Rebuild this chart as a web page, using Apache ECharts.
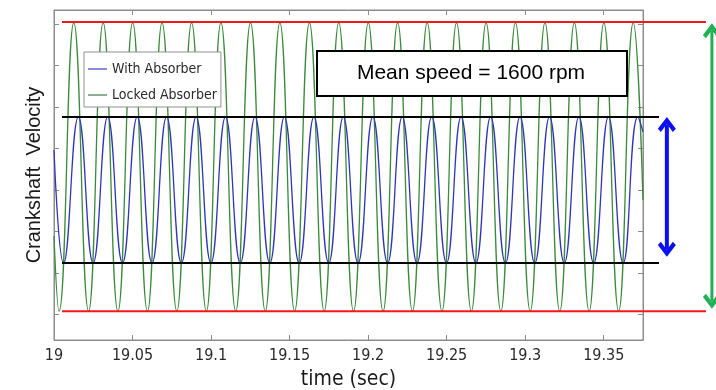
<!DOCTYPE html>
<html>
<head>
<meta charset="utf-8">
<script src="https://cdn.jsdelivr.net/npm/echarts@6.0.0/dist/echarts.min.js"></script>
<style>
  html, body { margin: 0; padding: 0; background: #fff; }
  #chart { width: 716px; height: 390px; }
</style>
</head>
<body>
<div id="chart"></div>
<script>
// ---- data ----
const xTickValues = [19, 19.05, 19.1, 19.15, 19.2, 19.25, 19.3, 19.35];
const yTickValues = [1570, 1580, 1590, 1600, 1610, 1620, 1630, 1640];
const xRange = [19, 19.375];
const yRange = [1563.86, 1643.37];
const annotXMax = 19.4217;

// Locked absorber (green): start, alternating trough/peak, end
const lockedT = [19.0000,
  19.0032, 19.0126, 19.0220, 19.0313, 19.0407, 19.0501, 19.0595, 19.0688, 19.0782, 19.0876,
  19.0970, 19.1063, 19.1157, 19.1251, 19.1345, 19.1438, 19.1532, 19.1626, 19.1720, 19.1813,
  19.1907, 19.2001, 19.2095, 19.2188, 19.2282, 19.2376, 19.2470, 19.2563, 19.2657, 19.2751,
  19.2845, 19.2938, 19.3032, 19.3126, 19.3220, 19.3313, 19.3407, 19.3501, 19.3595, 19.3688,
  19.3750];
const lockedV = [1588.9,
  1570.8, 1640.3, 1570.8, 1640.3, 1570.8, 1640.3, 1570.8, 1640.3, 1570.8, 1640.3,
  1570.8, 1640.3, 1570.8, 1640.3, 1570.8, 1640.3, 1570.8, 1640.3, 1570.8, 1640.3,
  1570.8, 1640.3, 1570.8, 1640.3, 1570.8, 1640.3, 1570.8, 1640.3, 1570.8, 1640.3,
  1570.8, 1640.3, 1570.8, 1640.3, 1570.8, 1640.3, 1570.8, 1640.3, 1570.8, 1640.3,
  1597.6];

// With absorber (blue): start, alternating trough/peak, end
const withT = [19.0000,
  19.0061, 19.0155, 19.0249, 19.0342, 19.0436, 19.0530, 19.0624, 19.0717, 19.0811, 19.0905,
  19.0999, 19.1092, 19.1186, 19.1280, 19.1374, 19.1467, 19.1561, 19.1655, 19.1749, 19.1842,
  19.1936, 19.2030, 19.2124, 19.2217, 19.2311, 19.2405, 19.2499, 19.2592, 19.2686, 19.2780,
  19.2874, 19.2967, 19.3061, 19.3155, 19.3249, 19.3342, 19.3436, 19.3530, 19.3624, 19.3717,
  19.3750];
const withV = [1609.6,
  1582.4, 1617.6, 1582.4, 1617.6, 1582.4, 1617.6, 1582.4, 1617.6, 1582.4, 1617.6,
  1582.4, 1617.6, 1582.4, 1617.6, 1582.4, 1617.6, 1582.4, 1617.6, 1582.4, 1617.6,
  1582.4, 1617.6, 1582.4, 1617.6, 1582.4, 1617.6, 1582.4, 1617.6, 1582.4, 1617.6,
  1582.4, 1617.6, 1582.4, 1617.6, 1582.4, 1617.6, 1582.4, 1617.6, 1582.4, 1617.6,
  1614.0];

// reference levels and arrows (annotations)
const redLevels = [1640.5, 1570.8];
const blackLevels = [1617.6, 1582.4];
const levelStart = 19.0051;
const redEnd = 19.4153;
const blackEnd = 19.3854;
const blueArrowT = 19.3904;
const blueArrowV = [1585.7, 1615.8];
const greenArrowT = 19.4191;
const greenArrowV = [1573.2, 1638.4];

const seriesNames = ['With Absorber', 'Locked Absorber'];
const meanText = 'Mean speed = 1600 rpm';

// ---- chart ----
const narrow = '"Liberation Sans Narrow", "DejaVu Sans Condensed", "Arial Narrow", sans-serif';
const frame = '#8c8c8c';
const chevron = 'path://M9,0L18,11L15,14L9,6.6L3,14L0,11Z';

const pairs = (ts, vs) => ts.map((t, i) => [t, vs[i]]);

function levelSeries(v, end, color) {
  return {
    type: 'line', xAxisIndex: 2, yAxisIndex: 2, silent: true, symbol: 'none',
    clip: false, animation: false,
    data: [[levelStart, v], [end, v]],
    lineStyle: { color: color, width: 2 }, z: 5
  };
}
function arrowSeries(t, vals, color, width, size) {
  return {
    type: 'line', xAxisIndex: 2, yAxisIndex: 2, silent: true, clip: false,
    data: [[t, vals[0]], [t, vals[1]]],
    symbol: chevron, symbolSize: size, showSymbol: true, symbolKeepAspect: false,
    symbolRotate: (v, p) => (p.dataIndex === 0 ? 180 : 0),
    itemStyle: { color: color }, lineStyle: { color: color, width: width }, z: 5
  };
}

const chart = echarts.init(document.getElementById('chart'), null, { renderer: 'canvas' });
chart.setOption({
  animation: false,
  backgroundColor: '#fff',
  grid: [
    { left: 54, right: 73, top: 10, bottom: 50, show: true, borderColor: frame, borderWidth: 1,
      containLabel: false, outerBoundsMode: 'none' },
    { left: 54, right: 0, top: 10, bottom: 50, containLabel: false, outerBoundsMode: 'none' }
  ],
  xAxis: [
    {
      gridIndex: 0, type: 'value', min: xRange[0], max: xRange[1], position: 'bottom',
      name: 'time (sec)', nameLocation: 'middle', nameGap: 26,
      nameTextStyle: { fontFamily: narrow, fontSize: 21, color: '#1a1a1a' },
      axisLine: { show: true, onZero: false, lineStyle: { color: frame } },
      axisTick: { show: true, inside: true, length: 5, customValues: xTickValues, lineStyle: { color: frame } },
      axisLabel: { show: true, customValues: xTickValues, margin: 8, fontFamily: narrow, fontSize: 16, color: '#2a2a2a' },
      splitLine: { show: false }
    },
    {
      gridIndex: 0, type: 'value', min: xRange[0], max: xRange[1], position: 'top',
      axisLine: { show: true, onZero: false, lineStyle: { color: frame } },
      axisTick: { show: true, inside: true, length: 5, customValues: xTickValues, lineStyle: { color: frame } },
      axisLabel: { show: false }, splitLine: { show: false }
    },
    { gridIndex: 1, type: 'value', min: xRange[0], max: annotXMax, show: false, splitLine: { show: false } }
  ],
  yAxis: [
    {
      gridIndex: 0, type: 'value', min: yRange[0], max: yRange[1], position: 'left',
      name: 'Crankshaft  Velocity', nameLocation: 'middle', nameGap: 10, nameRotate: 90,
      nameTextStyle: { fontFamily: '"Liberation Sans", Arial, sans-serif', fontSize: 20, color: '#1a1a1a' },
      axisLine: { show: true, onZero: false, lineStyle: { color: frame } },
      axisTick: { show: true, inside: true, length: 5, customValues: yTickValues, lineStyle: { color: frame } },
      axisLabel: { show: false }, splitLine: { show: false }
    },
    {
      gridIndex: 0, type: 'value', min: yRange[0], max: yRange[1], position: 'right',
      axisLine: { show: true, onZero: false, lineStyle: { color: frame } },
      axisTick: { show: true, inside: true, length: 5, customValues: yTickValues, lineStyle: { color: frame } },
      axisLabel: { show: false }, splitLine: { show: false }
    },
    { gridIndex: 1, type: 'value', min: yRange[0], max: yRange[1], show: false, splitLine: { show: false } }
  ],
  legend: {
    left: 84, top: 52, orient: 'vertical',
    data: [{ name: seriesNames[0], icon: 'rect' }, { name: seriesNames[1], icon: 'rect' }],
    itemWidth: 19, itemHeight: 1.2, itemGap: 10,
    padding: [9, 4, 4, 4],
    backgroundColor: '#fff', borderColor: '#909090', borderWidth: 1, borderRadius: 0,
    textStyle: { fontFamily: narrow, fontSize: 14, lineHeight: 16, color: '#2a2a2a' },
    selectedMode: false
  },
  series: [
    {
      name: seriesNames[1], type: 'line', xAxisIndex: 0, yAxisIndex: 0,
      data: pairs(lockedT, lockedV), smooth: 0.48, showSymbol: false, symbol: 'none',
      lineStyle: { color: '#3a8a3a', width: 1.3 }, itemStyle: { color: '#3f7a4a' }, z: 2
    },
    {
      name: seriesNames[0], type: 'line', xAxisIndex: 0, yAxisIndex: 0,
      data: pairs(withT, withV), smooth: 0.48, showSymbol: false, symbol: 'none',
      lineStyle: { color: '#3035b8', width: 1.3 }, itemStyle: { color: '#3a3fc0' }, z: 3
    },
    levelSeries(redLevels[0], redEnd, '#f01818'),
    levelSeries(redLevels[1], redEnd, '#f01818'),
    levelSeries(blackLevels[0], blackEnd, '#000'),
    levelSeries(blackLevels[1], blackEnd, '#000'),
    arrowSeries(blueArrowT, blueArrowV, '#0a10f0', 4, [18, 15]),
    arrowSeries(greenArrowT, greenArrowV, '#22b055', 3, [18, 15])
  ],
  graphic: [
    {
      type: 'rect', left: 316, top: 50, z: 100,
      shape: { width: 310, height: 45 },
      style: { fill: '#fff', stroke: '#000', lineWidth: 2 }
    },
    {
      type: 'text', x: 471, y: 73, z: 101,
      style: { text: meanText, align: 'center', verticalAlign: 'middle',
               font: '21px "Liberation Sans", Arial, sans-serif', fill: '#000' }
    }
  ]
});
</script>
</body>
</html>
